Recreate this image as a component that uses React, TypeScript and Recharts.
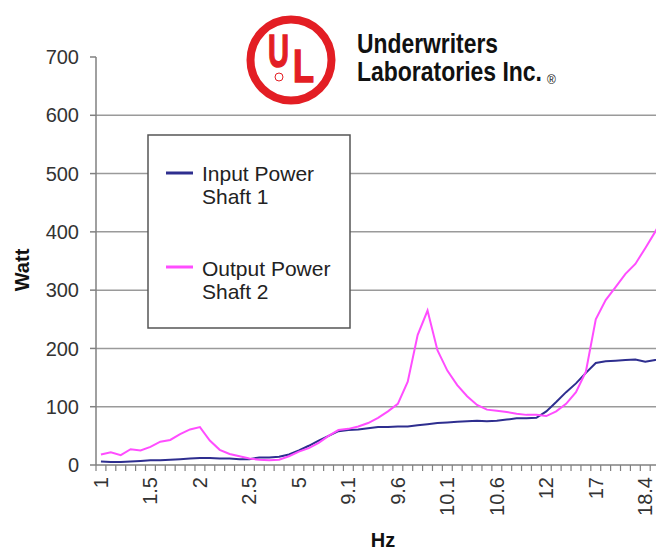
import React from "react";
import {
  LineChart,
  Line,
  XAxis,
  YAxis,
  CartesianGrid,
} from "recharts";

// category labels (Hz) - only every 5th is printed on the axis
const hz = [
  "1", "1.1", "1.2", "1.3", "1.4", "1.5", "1.6", "1.7", "1.8", "1.9",
  "2", "2.1", "2.2", "2.3", "2.4", "2.5", "3", "3.5", "4", "4.5",
  "5", "6", "7", "8", "9", "9.1", "9.2", "9.3", "9.4", "9.5",
  "9.6", "9.7", "9.8", "9.9", "10", "10.1", "10.2", "10.3", "10.4", "10.5",
  "10.6", "10.8", "11", "11.2", "11.6", "12", "13", "14", "15", "16",
  "17", "17.3", "17.6", "17.9", "18.1", "18.4", "18.7", "19",
];

const inputPower = [
  6, 5, 5, 6, 7, 8, 8, 9, 10, 11,
  12, 12, 11, 11, 10, 10, 13, 13, 14, 18,
  25, 33, 42, 50, 58, 60, 61, 63, 65, 65,
  66, 66, 68, 70, 72, 73, 74, 75, 76, 75,
  76, 78, 80, 80, 81, 92, 108, 125, 140, 158,
  175, 178, 179, 180, 181, 177, 180, 186,
];

const outputPower = [
  18, 22, 17, 27, 25, 31, 40, 43, 53, 61,
  65, 42, 26, 19, 15, 11, 9, 8, 9, 15,
  23, 29, 38, 50, 60, 62, 66, 72, 81, 92,
  105, 143, 223, 265, 197, 162, 137, 118, 103, 95,
  93, 91, 88, 86, 86, 84, 92, 105, 125, 160,
  250, 283, 305, 328, 345, 372, 400, 430,
];

const yTicks = [0, 100, 200, 300, 400, 500, 600, 700];
const gridValues = [100, 200, 300, 400, 500, 600];

const data = hz.map((h, i) => ({
  hz: h,
  input: inputPower[i],
  output: outputPower[i],
}));

const W = 680;
const H = 545;
const margin = { top: 49, right: 18, bottom: 0, left: 0 };
const Y_W = 88;
const X_H = 88;
const step = (W - margin.left - margin.right - Y_W) / hz.length;

const FONT = "'Liberation Sans', Arial, sans-serif";
const NARROW = "'Liberation Sans Narrow', 'Liberation Sans', Arial, sans-serif";

const XTick = (props: any) => {
  const { x, y, payload, index } = props;
  const bx = x - step / 2;
  return (
    <g>
      <line x1={bx} x2={bx} y1={y} y2={y + 6} stroke="#808080" strokeWidth={1.2} />
      {index % 5 === 0 && (
        <text
          x={x}
          y={y + 12}
          transform={`rotate(-90, ${x}, ${y + 12})`}
          textAnchor="end"
          dominantBaseline="central"
          fontSize={20}
          fill="#333"
          fontFamily={FONT}
        >
          {payload.value}
        </text>
      )}
    </g>
  );
};

export default function App() {
  return (
    <div
      style={{
        position: "relative",
        width: 656,
        height: H,
        overflow: "hidden",
        fontFamily: FONT,
        background: "#fff",
      }}
    >
      <LineChart width={W} height={H} data={data} margin={margin}>
        <CartesianGrid
          vertical={false}
          horizontalValues={gridValues}
          stroke="#9a9a9a"
          strokeWidth={1.5}
        />
        <XAxis
          dataKey="hz"
          interval={0}
          height={X_H}
          padding={{ left: step / 2, right: step / 2 }}
          tickSize={0}
          tickMargin={0}
          tick={<XTick />}
          stroke="#808080"
          strokeWidth={1.5}
          label={{
            value: "Hz",
            position: "insideBottom",
            offset: 6,
            fontSize: 20,
            fontWeight: "bold",
            fill: "#111",
          }}
        />
        <YAxis
          width={Y_W}
          domain={[0, 700]}
          ticks={yTicks}
          interval={0}
          tickSize={6}
          tickMargin={11}
          tick={{ fontSize: 20, fill: "#333" }}
          stroke="#808080"
          strokeWidth={1.5}
        />
        <Line
          dataKey="input"
          stroke="#2e2e8f"
          strokeWidth={2}
          dot={false}
          type="linear"
          isAnimationActive={false}
        />
        <Line
          dataKey="output"
          stroke="#ff4dff"
          strokeWidth={2}
          dot={false}
          type="linear"
          isAnimationActive={false}
        />
      </LineChart>
      <svg
        width={656}
        height={H}
        style={{ position: "absolute", left: 0, top: 0, pointerEvents: "none" }}
      >
        <text
          x={14}
          y={262}
          transform="rotate(-90, 14, 262)"
          textAnchor="middle"
          dominantBaseline="central"
          fontSize={20}
          fontWeight="bold"
          fill="#111"
          fontFamily={FONT}
        >
          Watt
        </text>

        {/* legend */}
        <rect x={140} y={127} width={202} height={193} fill="#fff" stroke="#555" strokeWidth={1.5} />
        <line x1={158} x2={185} y1={165} y2={165} stroke="#2e2e8f" strokeWidth={3} />
        <text x={194} y={173} fontSize={21} fill="#222" fontFamily={FONT}>Input Power</text>
        <text x={194} y={196} fontSize={21} fill="#222" fontFamily={FONT}>Shaft 1</text>
        <line x1={158} x2={185} y1={259} y2={259} stroke="#ff4dff" strokeWidth={3} />
        <text x={194} y={268} fontSize={21} fill="#222" fontFamily={FONT}>Output Power</text>
        <text x={194} y={291} fontSize={21} fill="#222" fontFamily={FONT}>Shaft 2</text>

        {/* UL logo */}
        <circle cx={283} cy={52} r={40.5} fill="#fff" stroke="#e31e24" strokeWidth={8} />
        <text x={260} y={59} fontSize={46} fontWeight="bold" fill="#e31e24" textLength={21}
          lengthAdjust="spacingAndGlyphs" stroke="#e31e24" strokeWidth={1.5} fontFamily={NARROW}>U</text>
        <text x={285} y={74} fontSize={46} fontWeight="bold" fill="#e31e24" textLength={21}
          lengthAdjust="spacingAndGlyphs" stroke="#e31e24" strokeWidth={1.5} fontFamily={NARROW}>L</text>
        <circle cx={271} cy={69} r={4} fill="none" stroke="#e31e24" strokeWidth={1} />
        <text x={349} y={45} fontSize={28} fontWeight="bold" fill="#111" textLength={141}
          lengthAdjust="spacingAndGlyphs" fontFamily={NARROW}>Underwriters</text>
        <text x={349} y={73} fontSize={28} fontWeight="bold" fill="#111" textLength={185}
          lengthAdjust="spacingAndGlyphs" fontFamily={NARROW}>Laboratories Inc.</text>
        <text x={539} y={76} fontSize={12} fill="#111" fontFamily={FONT}>®</text>
      </svg>
    </div>
  );
}
